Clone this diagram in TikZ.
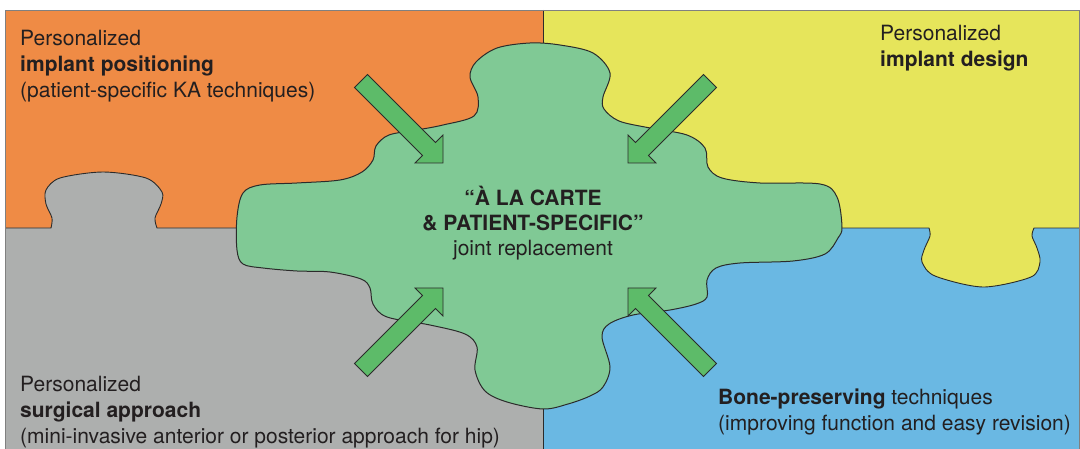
\documentclass[tikz,border=0pt]{standalone}
\usepackage{fontspec}
\setmainfont{TeX Gyre Heros}
\definecolor{orangepiece}{HTML}{EF8B45}
\definecolor{yellowpiece}{HTML}{E6E55B}
\definecolor{graypiece}{HTML}{ADAFAE}
\definecolor{bluepiece}{HTML}{6AB8E3}
\definecolor{blobgreen}{HTML}{80C995}
\definecolor{arrowgreen}{HTML}{5DBB69}
\definecolor{ink}{HTML}{231F20}
\definecolor{edge}{HTML}{2B2B2B}

\begin{document}
\begin{tikzpicture}[
        x=1pt, y=-1pt,
        piece/.style={draw=edge, line width=0.9pt},
        blob/.style={fill=blobgreen, draw=edge, line width=1pt},
        arrowfill/.style={fill=arrowgreen, draw=edge, line width=0.8pt, line join=miter},
        txt/.style={inner sep=0pt, align=left, anchor=north west, text=ink, font=\fontsize{21}{26}\selectfont},
        blockarrow/.pic={\draw[arrowfill] (-116,-9.2) -- (-19.8,-9.2) -- (-19.8,-19.8) -- (0,0) -- (-19.8,19.8) -- (-19.8,9.2) -- (-116,9.2) -- cycle;}
    ]
    \useasboundingbox (0,0) rectangle (1080,449);
    \fill[orangepiece] (5,10) rectangle (543,228);
    \fill[yellowpiece] (543,10) rectangle (1079,228);
    \fill[bluepiece] (543,228) rectangle (1079,470);
    \fill[yellowpiece] plot[smooth] coordinates {(929,228) (930,236) (924,250) (922,262) (935,276) (983,287) (1031,277) (1040,262) (1037,248) (1032,236) (1034,228)} -- cycle;
    \fill[graypiece] (5,470) -- (5,228) -- plot[smooth] coordinates {(51,228) (52,218) (46,204) (46,190) (60,178) (103,172) (146,178) (162,192) (161,204) (155,218) (157,228)} -- (543,228) -- (543,470) -- cycle;
    \draw[piece] (5,228) -- plot[smooth] coordinates {(51,228) (52,218) (46,204) (46,190) (60,178) (103,172) (146,178) (162,192) (161,204) (155,218) (157,228)}
        -- plot[smooth] coordinates {(929,228) (930,236) (924,250) (922,262) (935,276) (983,287) (1031,277) (1040,262) (1037,248) (1032,236) (1034,228)} -- (1079,228);
    \draw[piece] (543,10) -- (543,470);
    \draw[draw=gray, line width=0.9pt] (5,10) rectangle (1079,470);

    \draw[blob] plot[smooth cycle, tension=0.55] coordinates {
        (530,43) (560,45) (593,53) (610,73) (603,97) (604,109) (619,121) (650,128) (687,135) (705,148)
        (708,167) (722,178) (760,183) (820,184) (837,197) (842,227) (838,238) (825,254) (793,261)
        (740,263) (716,268) (707,280) (707,297) (696,304) (670,310) (633,315) (609,324) (602,337)
        (610,367) (603,387) (590,396) (568,404) (543,409) (507,402) (485,391) (475,370) (477,347)
        (465,334) (430,325) (387,317) (373,304) (370,288) (361,279) (330,272) (297,271) (263,268)
        (243,264) (237,250) (237,217) (243,193) (260,185) (297,183) (340,180) (362,172) (373,160)
        (376,146) (389,135) (417,130) (443,125) (474,116) (478,97) (470,77) (476,62) (497,48)};

    \pic[rotate=-45] at (443,163) {blockarrow};
    \pic[rotate=-135] at (628,163) {blockarrow};
    \pic[rotate=45] at (443,288) {blockarrow};
    \pic[rotate=135] at (628,288) {blockarrow};

    \node[txt] (Positioning) at (20,30) {Personalized\\\textbf{implant positioning}\\(patient-specific KA techniques)};
    \node[txt] (Design) at (880,25) {Personalized\\\textbf{implant design}};
    \node[txt] (Approach) at (20,376) {Personalized\\\textbf{surgical approach}\\(mini-invasive anterior or posterior approach for hip)};
    \node[txt] (Preserving) at (718,389) {\textbf{Bone-preserving} techniques\\(improving function and easy revision)};
    \node[txt, align=center, anchor=north, font=\fontsize{21}{25}\selectfont] (Carte) at (533,186) {\textbf{“À LA CARTE}\\\textbf{\& PATIENT-SPECIFIC”}\\joint replacement};
\end{tikzpicture}
\end{document}
